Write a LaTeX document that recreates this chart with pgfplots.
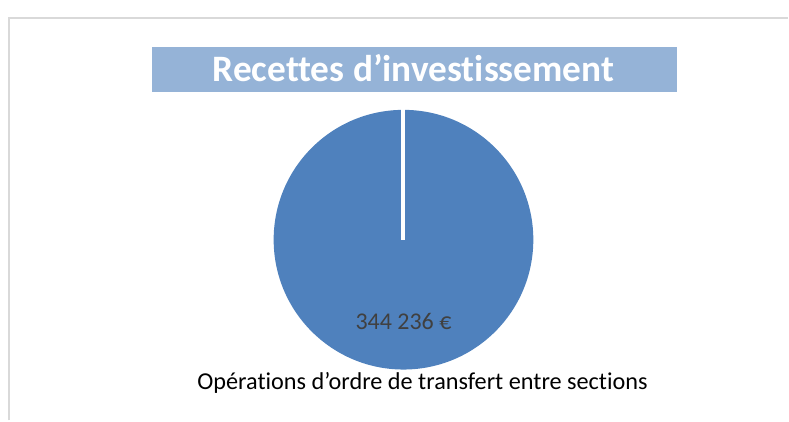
\documentclass[border=0pt]{standalone}
\usepackage{fontspec}
\setmainfont{Carlito}[Ligatures={NoCommon}]
\usepackage{pgfplots}
\pgfplotsset{compat=1.18}

\definecolor{piecol}{HTML}{4F81BD}
\definecolor{titlebg}{HTML}{95B3D7}
\definecolor{framecol}{HTML}{D9D9D9}
\definecolor{labcol}{HTML}{404040}

\begin{document}
\begin{tikzpicture}
\begin{axis}[
    width=591.75pt, height=315.75pt, scale only axis,
    xmin=0, xmax=789, ymin=0, ymax=421, y dir=reverse,
    axis lines=none, clip=false,
]
% bounding box
\path (axis cs:0,0) rectangle (axis cs:789,421);
% chart frame
\draw[framecol, line width=1.5pt] (axis cs:9,421) -- (axis cs:9,18) -- (axis cs:789,18);
% title
\fill[titlebg] (axis cs:152,47) rectangle (axis cs:678,92);
\node[text=white, font=\fontsize{28}{32}\selectfont\bfseries] at (axis cs:414,68) {Recettes d’investissement};
% single slice: 344 236 € = 100 %
\fill[piecol] (axis cs:404,240) circle[radius=97.5pt];
\draw[white, line width=3pt] (axis cs:404,240) -- (axis cs:404,108);
\addplot[only marks, mark=none, nodes near coords={344 236 €},
    nodes near coords style={text=labcol, font=\fontsize{18}{21}\selectfont, anchor=center}]
    coordinates {(404,322)};
% category label
\node[text=black, font=\fontsize{18.2}{21}\selectfont] at (axis cs:423,383) {Opérations d’ordre de transfert entre sections};
\end{axis}
\end{tikzpicture}
\end{document}
